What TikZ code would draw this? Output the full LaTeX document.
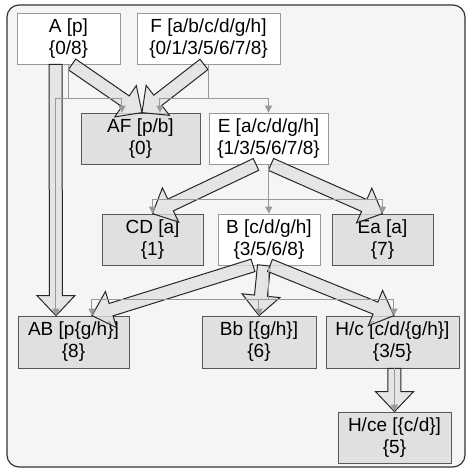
\documentclass[tikz,border=0pt]{standalone}
\usepackage{fontspec}
\setmainfont{Liberation Sans}
\usetikzlibrary{arrows.meta,calc}
\definecolor{bggray}{HTML}{F5F5F5}
\definecolor{boxgray}{HTML}{E0E0E0}
\definecolor{linkgray}{HTML}{999999}
\definecolor{edgedark}{HTML}{333333}

% wide hollow arrow from #1 to tip #2
\newcommand\flowarrow[2]{%
  \coordinate (fs) at (#1);
  \coordinate (ft) at (#2);
  \coordinate (fb) at ($(ft)!10pt!(fs)$);
  \draw[flow] ($(fs)!3.25pt!90:(ft)$) -- ($(fb)!3.25pt!90:(ft)$) -- ($(fb)!9.5pt!90:(ft)$) -- (ft)
    -- ($(fb)!9.5pt!-90:(ft)$) -- ($(fb)!3.25pt!-90:(ft)$) -- ($(fs)!3.25pt!-90:(ft)$) -- cycle;}

\begin{document}
\begin{tikzpicture}[x=0.5pt, y=-0.5pt,
  box/.style={draw=linkgray, fill=white, align=center, inner sep=0pt,
              minimum height=25.5pt, font=\fontsize{9.5}{11}\selectfont},
  dimbox/.style={box, draw=black!65, fill=boxgray},
  link/.style={draw=linkgray, line width=0.5pt, -{Triangle[length=3.5pt,width=3.5pt]}},
  flow/.style={draw=black!85, line width=0.5pt, fill=boxgray, fill opacity=0.75, line join=miter}]
\useasboundingbox (0,0) rectangle (466,468);
\draw[draw=edgedark, fill=bggray, rounded corners=6pt, line width=0.6pt] (7,5) rectangle (465,467);

\node[box, minimum width=51.5pt] (A)   at (68.5,38.5)  {A [p]\\\{0/8\}};
\node[box, minimum width=71.5pt] (F)   at (208.5,38.5) {F [a/b/c/d/g/h]\\\{0/1/3/5/6/7/8\}};
\node[dimbox, minimum width=59.5pt] (AF) at (140.5,138.5) {AF [p/b]\\\{0\}};
\node[box, minimum width=59.5pt] (E)   at (268.5,138.5) {E [a/c/d/g/h]\\\{1/3/5/6/7/8\}};
\node[dimbox, minimum width=50.5pt] (CD) at (152.5,239.5) {CD [a]\\\{1\}};
\node[box, minimum width=51pt]   (B)   at (269,239.5)   {B [c/d/g/h]\\\{3/5/6/8\}};
\node[dimbox, minimum width=50.5pt] (Ea) at (382.5,239.5) {Ea [a]\\\{7\}};
\node[dimbox, minimum width=55.5pt, minimum height=26pt] (AB) at (73.5,342) {AB [p\{g/h\}]\\\{8\}};
\node[dimbox, minimum width=57pt, minimum height=26pt] (Bb) at (259,342) {Bb [\{g/h\}]\\\{6\}};
\node[dimbox, minimum width=66.5pt, minimum height=26pt] (Hc) at (392.5,342) {H/c [c/d/\{g/h\}]\\\{3/5\}};
\node[dimbox, minimum width=56.5pt] (Hce) at (394.5,437.5) {H/ce [\{c/d\}]\\\{5\}};

% wide arrows
\flowarrow{$(A.south)+(-13,0)$}{$(AB.north)+(-17.5,0)$}
\flowarrow{$(A.south)+(3.5,0)$}{$(AF.north)+(1.5,0)$}
\flowarrow{$(F.south)+(-4.5,0)$}{$(AF.north)+(1.5,0)$}
\flowarrow{$(E.south)+(-12.5,0)$}{CD.north}
\flowarrow{$(E.south)+(2.5,0)$}{Ea.north}
\flowarrow{$(B.south)+(-16,0)$}{$(AB.north)+(18.5,0)$}
\flowarrow{$(B.south)+(-5,0)$}{Bb.north}
\flowarrow{$(B.south)+(1,0)$}{$(Hc.north)+(1.5,0)$}
\flowarrow{Hc.south -| Hce.north}{Hce.north}

% thin links
\draw[link] (A.south) -- ($(A.south)+(0,34)$) -| ($(AF.north)+(-18.5,0)$);
\draw[link] ($(A.south)+(0,34)$) -| ($(AB.north)+(-17.5,0)$);
\draw[link] (F.south) -- ($(F.south)+(0,34)$) -| ($(AF.north)+(19.5,0)$);
\draw[link] ($(F.south)+(0,34)$) -| (E.north);
\draw[link] (E.south) -- ($(E.south)+(0,35)$) -| (CD.north);
\draw[link] ($(E.south)+(0,35)$) -- (B.north);
\draw[link] ($(E.south)+(0,35)$) -| (Ea.north);
\draw[link] (B.south) -- ($(B.south)+(0,34)$) -| ($(AB.north)+(18.5,0)$);
\draw[link] ($(B.south)+(0,34)$) -| (Bb.north);
\draw[link] ($(B.south)+(0,34)$) -| ($(Hc.north)+(1.5,0)$);
\draw[link] (Hc.south -| Hce.north) -- (Hce.north);
\end{tikzpicture}
\end{document}
